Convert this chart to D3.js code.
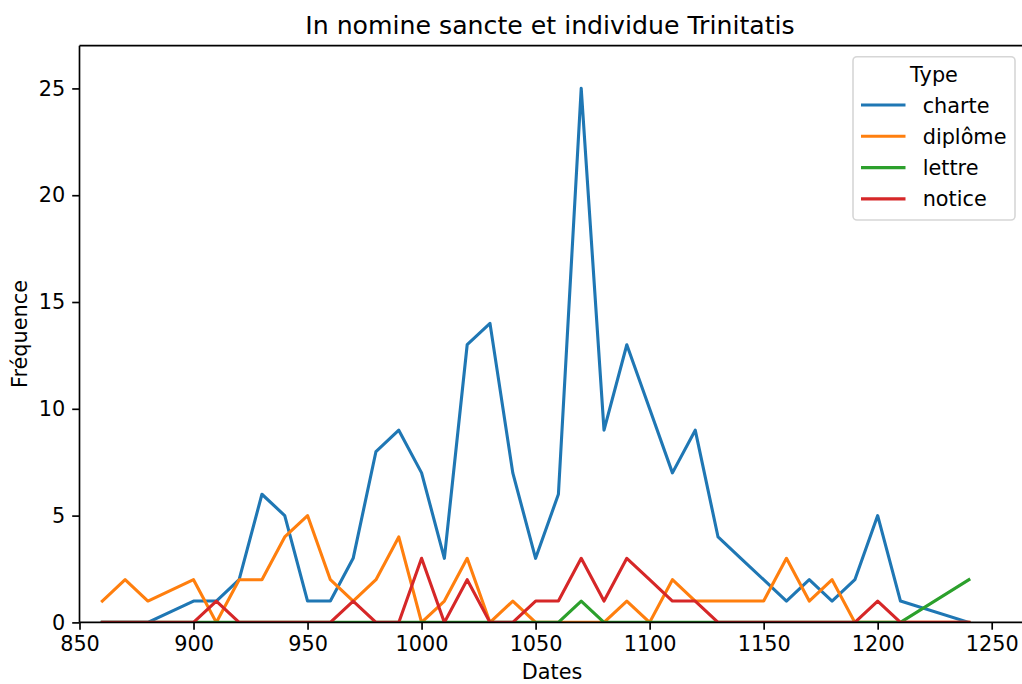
<!DOCTYPE html>
<html>
<head>
<meta charset="utf-8">
<script src="https://cdn.jsdelivr.net/npm/d3@7"></script>
<style>
  html, body { margin: 0; padding: 0; background: #fff; }
  svg { display: block; font-family: "DejaVu Sans", sans-serif; }
</style>
</head>
<body>
<svg id="chart" width="1022" height="684"></svg>
<script>
// ---- data ----
const years = [860, 870, 880, 900, 910, 920, 930, 940, 950, 960, 970, 980, 990, 1000, 1010, 1020, 1030, 1040, 1050, 1060, 1070, 1080, 1090, 1100, 1110, 1120, 1130, 1140, 1150, 1160, 1170, 1180, 1190, 1200, 1210, 1240];
const charte  = [0, 0, 0, 1, 1, 2, 6, 5, 1, 1, 3, 8, 9, 7, 3, 13, 14, 7, 3, 6, 25, 9, 13, 10, 7, 9, 4, 3, 2, 1, 2, 1, 2, 5, 1, 0];
const diplome = [1, 2, 1, 2, 0, 2, 2, 4, 5, 2, 1, 2, 4, 0, 1, 3, 0, 1, 0, 0, 0, 0, 1, 0, 2, 1, 1, 1, 1, 3, 1, 2, 0, 0, 0, 0];
const lettre  = [0, 0, 0, 0, 0, 0, 0, 0, 0, 0, 0, 0, 0, 0, 0, 0, 0, 0, 0, 0, 1, 0, 0, 0, 0, 0, 0, 0, 0, 0, 0, 0, 0, 0, 0, 2];
const notice  = [0, 0, 0, 0, 1, 0, 0, 0, 0, 0, 1, 0, 0, 3, 0, 2, 0, 0, 1, 1, 3, 1, 3, 2, 1, 1, 0, 0, 0, 0, 0, 0, 0, 1, 0, 0];
const seriesNames = ["charte", "diplôme", "lettre", "notice"];
const seriesValues = [charte, diplome, lettre, notice];
const seriesColors = ["#1f77b4", "#ff7f0e", "#2ca02c", "#d62728"];
const xTicks = [850, 900, 950, 1000, 1050, 1100, 1150, 1200, 1250];
const yTicks = [0, 5, 10, 15, 20, 25];
const titleText = "In nomine sancte et individue Trinitatis";
const xLabel = "Dates";
const yLabel = "Fréquence";
const legendTitle = "Type";

// ---- layout ----
const svg = d3.select("#chart");
const L = 79.5, R = 1025, T = 45.7, B = 622.4;
const x = d3.scaleLinear().domain([850, 1250]).range([L, 991.7]);
const y = d3.scaleLinear().domain([0, 27]).range([B, T]);

svg.append("defs").append("clipPath").attr("id", "clip")
  .append("rect").attr("x", L).attr("y", T).attr("width", R - L).attr("height", B - T);

// lines
const line = d3.line().x((d, i) => x(years[i])).y(d => y(d));
const g = svg.append("g").attr("clip-path", "url(#clip)");
seriesValues.forEach((vals, k) => {
  g.append("path").datum(vals)
    .attr("d", line)
    .attr("fill", "none")
    .attr("stroke", seriesColors[k])
    .attr("stroke-width", 3.1)
    .attr("stroke-linejoin", "round")
    .attr("stroke-linecap", "square");
});

// axes
const xAxis = d3.axisBottom(x).tickValues(xTicks).tickFormat(d3.format("d")).tickSize(7.3).tickPadding(7);
const yAxis = d3.axisLeft(y).tickValues(yTicks).tickFormat(d3.format("d")).tickSize(7.3).tickPadding(7);

const gx = svg.append("g").attr("transform", `translate(0,${B})`).call(xAxis);
const gy = svg.append("g").attr("transform", `translate(${L},0)`).call(yAxis);
[gx, gy].forEach(a => {
  a.select(".domain").remove();
  a.selectAll(".tick line").attr("stroke", "#000").attr("stroke-width", 1.67);
  a.selectAll(".tick text").attr("fill", "#000").style("font-size", "20.8px").style("font-family", "DejaVu Sans");
});

// spines
svg.append("line").attr("x1", L).attr("x2", R).attr("y1", B).attr("y2", B).attr("stroke", "#000").attr("stroke-width", 1.67);
svg.append("line").attr("x1", L).attr("x2", R).attr("y1", T).attr("y2", T).attr("stroke", "#000").attr("stroke-width", 1.67);
svg.append("line").attr("x1", L).attr("x2", L).attr("y1", T).attr("y2", B).attr("stroke", "#000").attr("stroke-width", 1.67);

// title and labels
svg.append("text").attr("x", 550).attr("y", 33.5).attr("text-anchor", "middle")
  .style("font-size", "25.2px").attr("fill", "#000").text(titleText);
svg.append("text").attr("x", 552).attr("y", 679).attr("text-anchor", "middle")
  .style("font-size", "20.8px").attr("fill", "#000").text(xLabel);
svg.append("text").attr("transform", "translate(27,334) rotate(-90)").attr("text-anchor", "middle")
  .style("font-size", "20.8px").attr("fill", "#000").text(yLabel);

// legend
const lg = svg.append("g");
lg.append("rect").attr("x", 853).attr("y", 56.7).attr("width", 162).attr("height", 163.3)
  .attr("rx", 4).attr("fill", "#fff").attr("fill-opacity", 0.8)
  .attr("stroke", "#d6d6d6").attr("stroke-width", 1.6);
lg.append("text").attr("x", 934).attr("y", 81.7).attr("text-anchor", "middle")
  .style("font-size", "20.8px").attr("fill", "#000").text(legendTitle);
seriesNames.forEach((name, k) => {
  const ly = 105 + k * 31.3;
  lg.append("line").attr("x1", 861).attr("x2", 905.5).attr("y1", ly).attr("y2", ly)
    .attr("stroke", seriesColors[k]).attr("stroke-width", 3.1);
  lg.append("text").attr("x", 922.7).attr("y", ly + 7.5)
    .style("font-size", "20.8px").attr("fill", "#000").text(name);
});
</script>
</body>
</html>
